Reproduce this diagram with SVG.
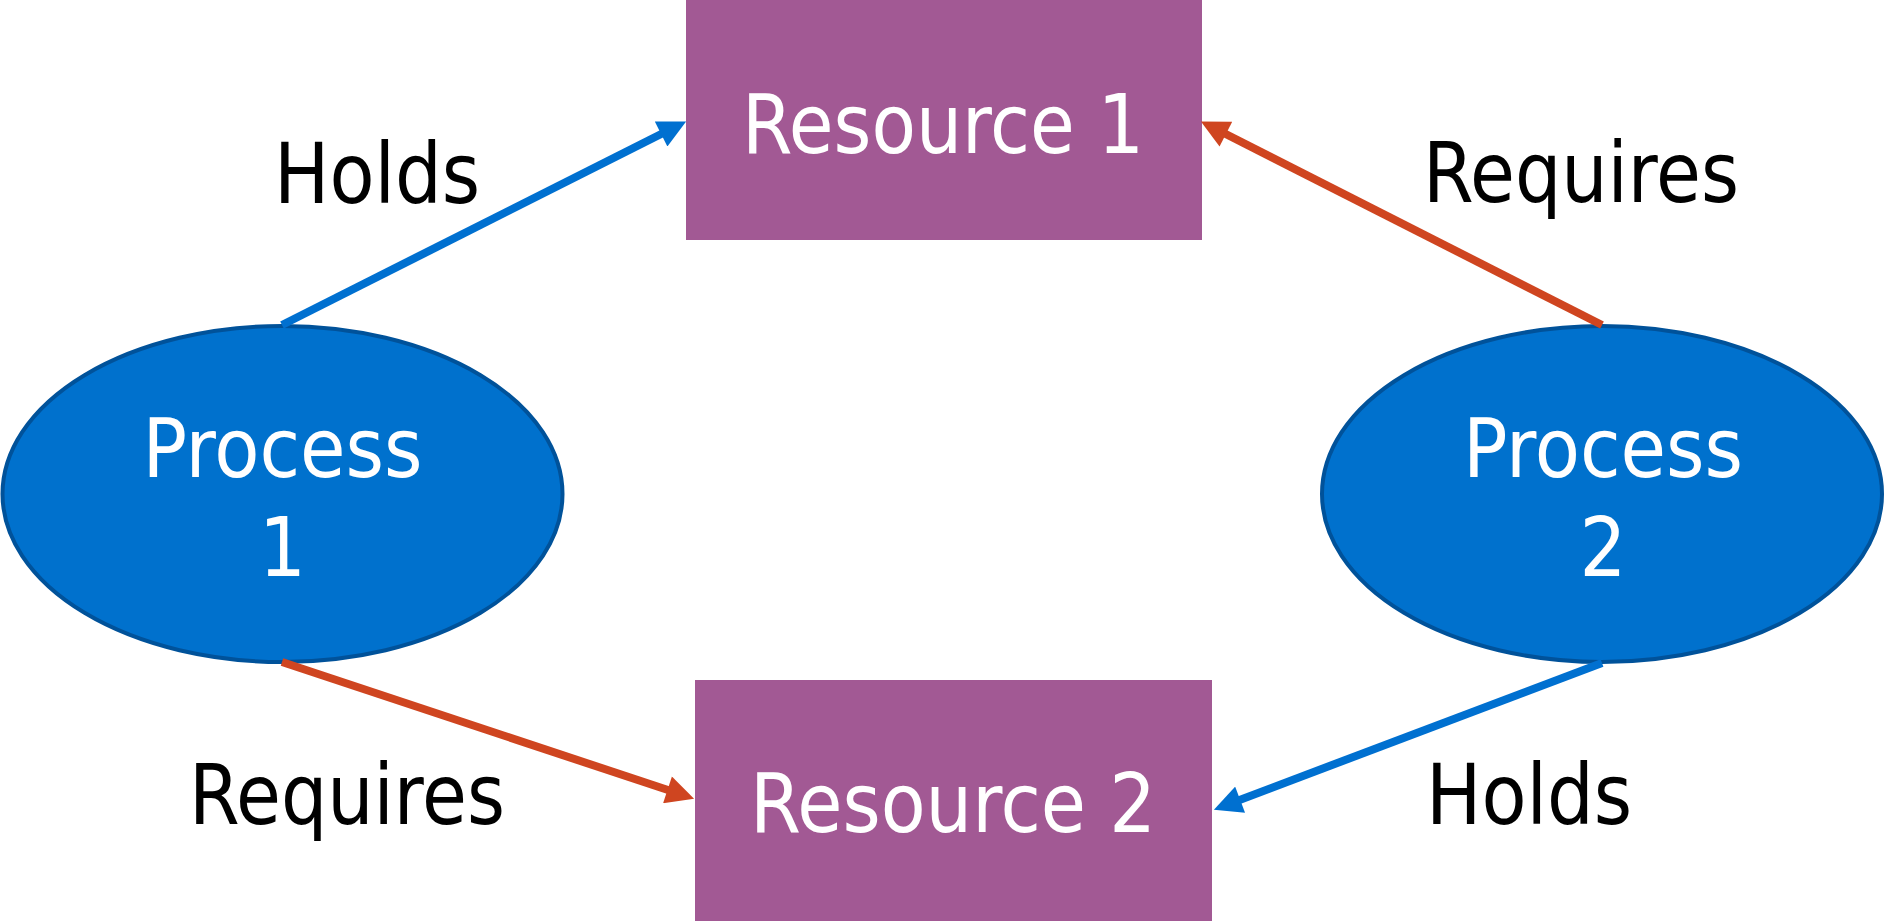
<svg xmlns="http://www.w3.org/2000/svg" width="1885" height="921" viewBox="0 0 1885 921">
  <style>
    .proc { fill: #0071CD; stroke: #00529A; stroke-width: 4; }
    .res { fill: #A25994; }
    .ntext { font-family: "DejaVu Sans Condensed", "DejaVu Sans", "Liberation Sans", sans-serif; font-size: 82px; fill: #FFFFFF; text-anchor: middle; }
    .label { font-family: "DejaVu Sans Condensed", "DejaVu Sans", "Liberation Sans", sans-serif; font-size: 84px; fill: #000000; text-anchor: middle; }
    .blue { stroke: #0070D0; stroke-width: 8; fill: none; marker-end: url(#arrowBlue); }
    .red { stroke: #CF4520; stroke-width: 8; fill: none; marker-end: url(#arrowRed); }
  </style>
  <defs>
    <marker id="arrowBlue" viewBox="0 0 10 10" markerUnits="strokeWidth" markerWidth="3.75" markerHeight="3.5" refX="5" refY="5" orient="auto">
      <path d="M0,0 L10,5 L0,10 z" fill="#0070D0"/>
    </marker>
    <marker id="arrowRed" viewBox="0 0 10 10" markerUnits="strokeWidth" markerWidth="3.75" markerHeight="3.5" refX="5" refY="5" orient="auto">
      <path d="M0,0 L10,5 L0,10 z" fill="#CF4520"/>
    </marker>
  </defs>
  <rect width="1885" height="921" fill="#FFFFFF"/>

  <g id="resource1">
    <rect class="res" x="686" y="0" width="516" height="240"/>
    <text class="ntext" x="943" y="153" textLength="402" lengthAdjust="spacingAndGlyphs">Resource 1</text>
  </g>
  <g id="resource2">
    <rect class="res" x="695" y="680" width="517" height="241"/>
    <text class="ntext" x="953" y="832" textLength="406" lengthAdjust="spacingAndGlyphs">Resource 2</text>
  </g>
  <g id="process1">
    <ellipse class="proc" cx="282.5" cy="494" rx="280" ry="168"/>
    <text class="ntext" x="282.5" y="477" textLength="280" lengthAdjust="spacingAndGlyphs">Process</text>
    <text class="ntext" x="282.5" y="576">1</text>
  </g>
  <g id="process2">
    <ellipse class="proc" cx="1602" cy="494" rx="280" ry="168"/>
    <text class="ntext" x="1603" y="477" textLength="280" lengthAdjust="spacingAndGlyphs">Process</text>
    <text class="ntext" x="1603" y="576">2</text>
  </g>

  <g id="connectors">
    <line class="blue" x1="282" y1="325" x2="673.6" y2="127.7"/>
    <line class="red" x1="1602" y1="325" x2="1213.4" y2="127.8"/>
    <line class="red" x1="282" y1="662" x2="680.8" y2="794.3"/>
    <line class="blue" x1="1602" y1="663" x2="1227" y2="804.7"/>
    <text class="label" x="377" y="203" textLength="206" lengthAdjust="spacingAndGlyphs">Holds</text>
    <text class="label" x="1581" y="202" textLength="316" lengthAdjust="spacingAndGlyphs">Requires</text>
    <text class="label" x="347" y="824" textLength="316" lengthAdjust="spacingAndGlyphs">Requires</text>
    <text class="label" x="1529" y="824" textLength="206" lengthAdjust="spacingAndGlyphs">Holds</text>
  </g>
</svg>
